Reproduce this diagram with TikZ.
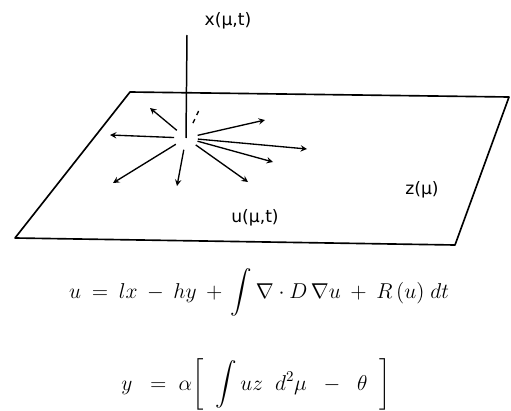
\documentclass[tikz,border=0pt]{standalone}
\usepackage{amsmath}
\usepackage{fontspec}
\newfontfamily\labelfont{DejaVu Sans}
\begin{document}
\begin{tikzpicture}[x=0.67pt, y=-0.67pt, >=stealth,
    plane/.style={line width=1.1pt, line join=round},
    ray/.style={->, line width=0.9pt, shorten <=8pt},
    lab/.style={font=\labelfont\fontsize{11.5}{13}\selectfont, inner sep=1pt},
    eqn/.style={anchor=base, inner sep=0pt, font=\fontsize{14}{16}\selectfont}]
  \useasboundingbox (0,0) rectangle (511,411);

  % Plane
  \coordinate (p1) at (130,92);
  \coordinate (p2) at (509,97);
  \coordinate (p3) at (455,245);
  \coordinate (p4) at (15,238);
  \draw[plane] (p1) -- (p2) -- (p3) -- (p4) -- cycle;

  % Vertical axis
  \coordinate (o) at (186,138);
  \coordinate (top) at (187,35);
  \draw[line width=1pt] (o) -- (top);
  \node[lab] (xlab) at (228,21) {x(μ,t)};

  % Rays in the plane
  \coordinate (r1) at (150,108);
  \coordinate (r2) at (110,135);
  \coordinate (r3) at (113,183);
  \coordinate (r4) at (177,186);
  \coordinate (r5) at (248,182);
  \coordinate (r6) at (273,162);
  \coordinate (r7) at (307,149);
  \coordinate (r8) at (265,120);
  \foreach \r in {r1,r2,r3,r4,r5,r6,r7,r8}
    \draw[ray] (o) -- (\r);
  \coordinate (d1) at (200,108);
  \draw[line width=0.9pt, dashed, shorten <=11pt] (o) -- (d1);

  \node[lab] (ulab) at (255,218) {u(μ,t)};
  \node[lab] (zlab) at (422,190) {z(μ)};

  % Equations
  \node[eqn] (eq1) at (259,298)
    {$\displaystyle u \:=\: lx \:-\: hy \:+\, \int \nabla\cdot D\,\nabla u \:+\: R\,(u) \;dt$};
  \node[eqn] (eq2) at (256,390)
    {$\displaystyle y \;\;=\; \alpha\!\left[\;\;\int uz\;\; d^2\mu \;\;-\;\; \theta \;\;\right]$};
\end{tikzpicture}
\end{document}
